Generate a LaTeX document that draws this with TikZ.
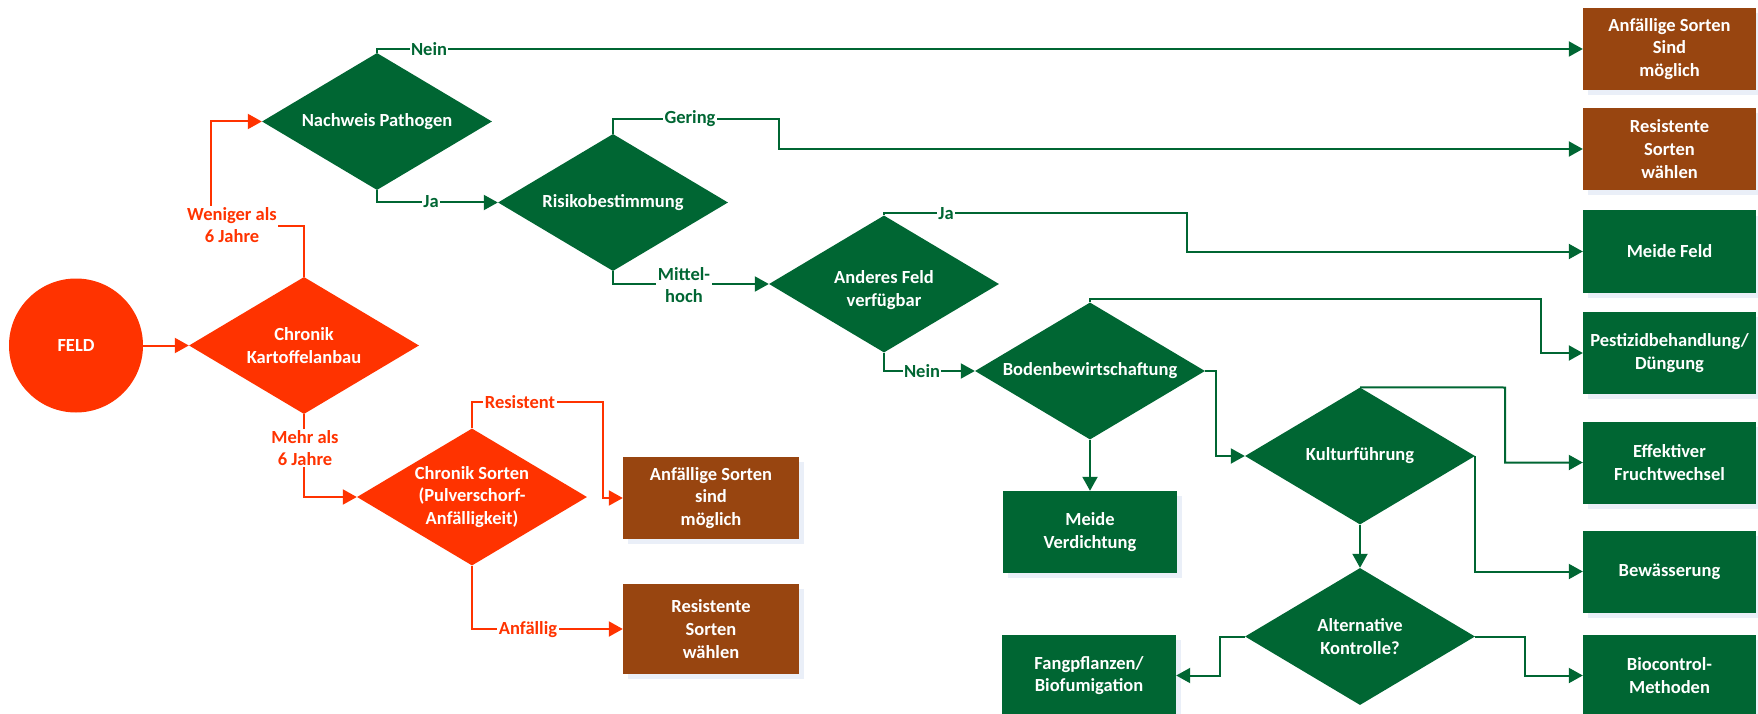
\documentclass[tikz,border=0pt]{standalone}
\usepackage{fontspec}
\setmainfont{Carlito}
\usepackage{tikz}
\usetikzlibrary{shapes.geometric,arrows.meta,shadows}
\definecolor{dgreen}{RGB}{0,102,51}
\definecolor{fred}{RGB}{255,51,0}
\definecolor{brn}{RGB}{152,69,16}
\definecolor{shad}{RGB}{234,239,248}
\tikzset{>={Triangle[length=14pt,width=15pt]}}
\tikzset{
  txt/.style={font=\fontsize{18.5}{22.6}\selectfont\bfseries, align=center},
  dia/.style={diamond, minimum width=230pt, minimum height=137pt, inner sep=0pt},
  gdia/.style={dia, fill=dgreen},
  rdia/.style={dia, fill=fred},
  dtext/.style={txt, text=white},
  box/.style={txt, text=white, rectangle, minimum width=173pt, minimum height=82pt, inner sep=2pt,
    drop shadow={shadow xshift=5pt, shadow yshift=-5pt, fill=shad, opacity=1}},
  gbox/.style={box, fill=dgreen},
  bbox/.style={box, fill=brn},
  gline/.style={draw=dgreen, line width=2pt},
  rline/.style={draw=fred, line width=2pt},
  glab/.style={txt, text=dgreen, fill=white, inner sep=1.5pt},
  rlab/.style={txt, text=fred, fill=white, inner sep=1.5pt}
}

\begin{document}
\begin{tikzpicture}[x=1pt,y=-1pt]
\useasboundingbox (0,0) rectangle (1758,714);

\node[circle, fill=fred, minimum size=134pt, inner sep=0pt, dtext] (feld) at (76,345.5) {FELD};

\node[rdia, label={[dtext]center:{Chronik\\Kartoffelanbau}}] (chronik) at (304,345.5) {};
\node[gdia, label={[dtext]center:Nachweis Pathogen}] (nachweis) at (377,121.5) {};
\node[gdia, label={[dtext]center:Risikobestimmung}] (risiko) at (613,202.5) {};
\node[rdia, label={[dtext]center:{Chronik Sorten\\(Pulverschorf-\\Anfälligkeit)}}] (sorten) at (472,497) {};
\node[gdia, label={[dtext, yshift=-6pt]center:{Anderes Feld\\verfügbar}}] (anderes) at (884,284) {};
\node[gdia, label={[dtext]center:Bodenbewirtschaftung}] (boden) at (1090,371) {};
\node[gdia, label={[dtext]center:Kulturführung}] (kultur) at (1360,456) {};
\node[gdia, label={[dtext]center:{Alternative\\Kontrolle?}}] (altern) at (1360,636.5) {};

\node[bbox] (ars) at (1669.5,49) {Anfällige Sorten\\Sind\\möglich};
\node[bbox] (rsw) at (1669.5,149) {Resistente\\Sorten\\wählen};
\node[gbox] (meide) at (1669.5,251.5) {Meide Feld};
\node[gbox] (pest) at (1669.5,353) {Pestizidbehandlung/\\Düngung};
\node[gbox] (frucht) at (1669.5,462.5) {Effektiver\\Fruchtwechsel};
\node[gbox] (bew) at (1669.5,571.5) {Bewässerung};
\node[gbox] (bio) at (1669.5,675.5) {Biocontrol-\\Methoden};
\node[gbox, minimum width=174pt] (verd) at (1090,532) {Meide\\Verdichtung};
\node[gbox, minimum width=174pt] (fang) at (1089,675.5) {Fangpflanzen/\\Biofumigation};
\node[bbox, minimum width=176pt] (asm) at (711,498) {Anfällige Sorten\\sind\\möglich};
\node[bbox, minimum width=176pt, minimum height=90pt] (rsw2) at (711,629) {Resistente\\Sorten\\wählen};

\draw[rline,->] (feld) -- (chronik);
\coordinate (c1) at (211,226);
\draw[rline,->] (chronik.north) |- (c1) |- (nachweis.west);
\node[rlab] (wen) at (232,225) {Weniger als\\6 Jahre};
\draw[rline,->] (chronik.south) |- (sorten.west);
\node[rlab] (mehr) at (305,448) {Mehr als\\6 Jahre};
\coordinate (c9) at (603,402);
\draw[rline,->] (sorten.north) |- (c9) |- (asm.west);
\node[rlab] (res) at (520,402) {Resistent};
\draw[rline,->] (sorten.south) |- (rsw2.west);
\node[rlab] (anf) at (528,630) {Anfällig};

\draw[gline,->] (nachweis.north) |- (ars.west);
\node[glab] (nein1) at (429,49) {Nein};
\draw[gline,->] (nachweis.south) |- (risiko.west);
\node[glab] (ja1) at (431,202) {Ja};
\coordinate (c2) at (779,119);
\draw[gline,->] (risiko.north) |- (c2) |- (rsw.west);
\node[glab] (ger) at (690,119) {Gering};
\draw[gline,->] (risiko.south) |- (anderes.west);
\node[glab] (mit) at (684,285) {Mittel-\\hoch};
\coordinate (c3) at (1187,213);
\draw[gline,->] (anderes.north) |- (c3) |- (meide.west);
\node[glab] (ja2) at (946,214) {Ja};
\draw[gline,->] (anderes.south) |- (boden.west);
\node[glab] (nein2) at (922,371) {Nein};
\coordinate (c4) at (1541,299);
\draw[gline,->] (boden.north) |- (c4) |- (pest.west);
\coordinate (c5) at (1216,371);
\draw[gline,->] (boden.east) -- (c5) |- (kultur.west);
\draw[gline,->] (boden.south) -- (verd.north);
\coordinate (c6) at (1505,387.5);
\draw[gline,->] (kultur.north) -- (c6) |- (frucht.west);
\draw[gline,->] (kultur.east) |- (bew.west);
\draw[gline,->] (kultur.south) -- (altern.north);
\coordinate (c7) at (1220,636.5);
\draw[gline,->] (altern.west) -- (c7) |- (fang.east);
\coordinate (c8) at (1525,636.5);
\draw[gline,->] (altern.east) -- (c8) |- (bio.west);

\end{tikzpicture}
\end{document}
